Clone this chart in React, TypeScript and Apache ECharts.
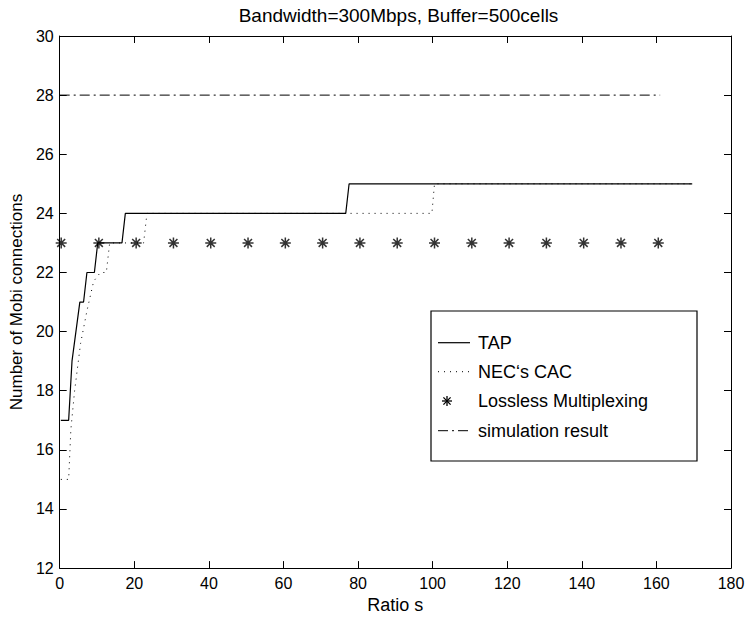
import React, { useEffect, useRef } from "react";
import * as echarts from "echarts";

const titleText = "Bandwidth=300Mbps, Buffer=500cells";
const xName = "Ratio s";
const yName = "Number of Mobi connections";

const tapX = [0.3, 2.4, 3.3, 5.4, 6.4, 7.3, 9.3, 10.2, 16.7, 17.6, 76.7, 77.6, 169.6];
const tapY = [17, 17, 19, 21, 21, 22, 22, 23, 23, 24, 24, 25, 25];

const necX = [0.3, 2.4, 3.0, 4.0, 5.6, 7.3, 9.1, 10.9, 12.5, 13.4, 22.5, 23.4, 99.8, 100.5, 169.6];
const necY = [15, 15, 16.7, 18, 19.6, 20.7, 21.7, 22, 22, 23, 23, 24, 24, 25, 25];

const losslessX = [0.4, 10.5, 20.5, 30.5, 40.5, 50.5, 60.5, 70.5, 80.5, 90.5, 100.5, 110.5, 120.5, 130.5, 140.5, 150.5, 160.5];
const losslessY = [23, 23, 23, 23, 23, 23, 23, 23, 23, 23, 23, 23, 23, 23, 23, 23, 23];

const simX = [0, 161];
const simY = [28, 28];

const seriesNames = ["TAP", "NEC\u2018s CAC", "Lossless Multiplexing", "simulation result"];

const zip = (xs: number[], ys: number[]) => xs.map((x, i) => [x, ys[i]]);

const FONT = "Liberation Sans, Arial, Helvetica, sans-serif";
const STAR = "path://M0,-5L0,5M-5,0L5,0M-3.6,-3.6L3.6,3.6M-3.6,3.6L3.6,-3.6";

const DOTTED = [1, 5];
const DASHDOT = [10, 4, 2, 4];

export default function App() {
  const ref = useRef<HTMLDivElement>(null);
  useEffect(() => {
    if (!ref.current) return;
    const chart = echarts.init(ref.current, undefined, { renderer: "svg" });
    const axisLine = { show: true, onZero: false, lineStyle: { color: "#000", width: 1 } };
    const tick = { show: true, inside: true, length: 7, lineStyle: { color: "#000", width: 1 } };

    // legend drawn as graphic
    const lx0 = 438;
    const lx1 = 470;
    const tx = 478;
    const rows = [342.7, 371.7, 401, 430.7];
    const legendEls: any[] = [
      {
        type: "rect",
        shape: { x: 431, y: 311, width: 266, height: 150 },
        style: { fill: "#fff", stroke: "#000", lineWidth: 1.2 },
        z: 10,
      },
      {
        type: "line",
        shape: { x1: lx0, y1: rows[0], x2: lx1, y2: rows[0] },
        style: { stroke: "#000", lineWidth: 1.2 },
        z: 11,
      },
      {
        type: "line",
        shape: { x1: lx0, y1: rows[1], x2: lx1, y2: rows[1] },
        style: { stroke: "#000", lineWidth: 1, lineDash: DOTTED },
        z: 11,
      },
      {
        type: "line",
        shape: { x1: lx0, y1: rows[3], x2: lx1, y2: rows[3] },
        style: { stroke: "#000", lineWidth: 1, lineDash: DASHDOT },
        z: 11,
      },
    ];
    const sx = 447;
    const sy = rows[2];
    const arms = [
      [0, -5, 0, 5],
      [-5, 0, 5, 0],
      [-3.6, -3.6, 3.6, 3.6],
      [-3.6, 3.6, 3.6, -3.6],
    ];
    arms.forEach((a) =>
      legendEls.push({
        type: "line",
        shape: { x1: sx + a[0], y1: sy + a[1], x2: sx + a[2], y2: sy + a[3] },
        style: { stroke: "#000", lineWidth: 1.3 },
        z: 11,
      })
    );
    seriesNames.forEach((n, i) =>
      legendEls.push({
        type: "text",
        x: tx,
        y: rows[i],
        style: {
          text: n,
          fontFamily: FONT,
          fontSize: 18,
          fill: "#000",
          verticalAlign: "middle",
          align: "left",
        },
        z: 11,
      })
    );

    chart.setOption({
      animation: false,
      backgroundColor: "#fff",
      title: {
        text: titleText,
        left: 393.5,
        top: 1,
        textAlign: "center",
        textStyle: { fontFamily: FONT, fontSize: 19, fontWeight: "normal", color: "#000" },
      },
      grid: { left: 56, right: 19, top: 36, bottom: 49 },
      graphic: legendEls,
      xAxis: [
        {
          type: "value",
          min: 0,
          max: 180,
          interval: 20,
          position: "bottom",
          name: xName,
          nameLocation: "middle",
          nameGap: 26,
          nameTextStyle: { fontFamily: FONT, fontSize: 18, color: "#000" },
          axisLine,
          axisTick: tick,
          axisLabel: { fontFamily: FONT, fontSize: 16, color: "#000", margin: 7 },
          splitLine: { show: false },
        },
        {
          type: "value",
          min: 0,
          max: 180,
          interval: 20,
          position: "top",
          axisLine,
          axisTick: tick,
          axisLabel: { show: false },
          splitLine: { show: false },
        },
      ],
      yAxis: [
        {
          type: "value",
          min: 12,
          max: 30,
          interval: 2,
          position: "left",
          name: yName,
          nameLocation: "middle",
          nameGap: 31,
          nameTextStyle: { fontFamily: FONT, fontSize: 17, color: "#000" },
          axisLine,
          axisTick: tick,
          axisLabel: { fontFamily: FONT, fontSize: 16, color: "#000", margin: 6 },
          splitLine: { show: false },
        },
        {
          type: "value",
          min: 12,
          max: 30,
          interval: 2,
          position: "right",
          axisLine,
          axisTick: tick,
          axisLabel: { show: false },
          splitLine: { show: false },
        },
      ],
      series: [
        {
          name: seriesNames[1],
          type: "line",
          data: zip(necX, necY),
          showSymbol: false,
          symbol: "none",
          lineStyle: { color: "#000", width: 1, type: DOTTED },
          itemStyle: { color: "#000" },
          z: 2,
        },
        {
          name: seriesNames[0],
          type: "line",
          data: zip(tapX, tapY),
          showSymbol: false,
          symbol: "none",
          lineStyle: { color: "#000", width: 1.2, type: "solid" },
          itemStyle: { color: "#000" },
          z: 3,
        },
        {
          name: seriesNames[2],
          type: "scatter",
          data: zip(losslessX, losslessY),
          symbol: STAR,
          symbolSize: 11,
          itemStyle: { color: "transparent", borderColor: "#000", borderWidth: 1.5 },
          z: 4,
        },
        {
          name: seriesNames[3],
          type: "line",
          data: zip(simX, simY),
          showSymbol: false,
          symbol: "none",
          lineStyle: { color: "#000", width: 1, type: DASHDOT },
          itemStyle: { color: "#000" },
          z: 2,
        },
      ],
    });
    return () => chart.dispose();
  }, []);
  return (
    <div
      ref={ref}
      style={{ position: "fixed", left: 0, top: 0, width: 750, height: 619, background: "#fff" }}
    />
  );
}
